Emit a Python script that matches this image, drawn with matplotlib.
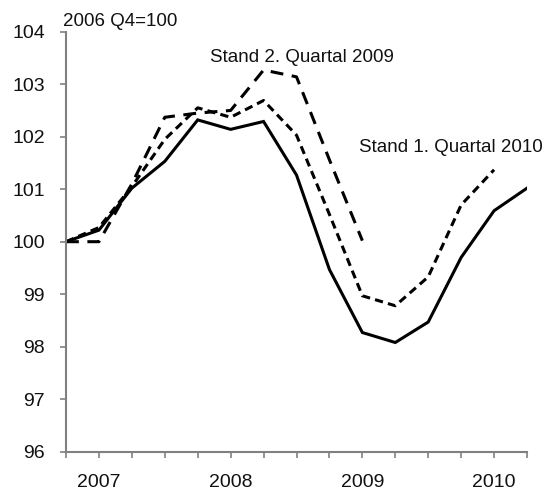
import matplotlib
matplotlib.use("Agg")
import matplotlib.pyplot as plt

plt.rcParams['font.family'] = ['Liberation Sans', 'DejaVu Sans']

# quarters 2006 Q4 .. 2010 Q2
quarters = list(range(15))
year_pos = [1, 5, 9, 13]
year_labels = ["2007", "2008", "2009", "2010"]

# latest vintage (solid)
aktuell = [100.0, 100.22, 101.02, 101.53, 102.32, 102.14, 102.29, 101.27,
           99.47, 98.27, 98.08, 98.47, 99.70, 100.59, 101.02]
# Stand 1. Quartal 2010 (short dashes)
stand_q1_2010 = [100.0, 100.27, 101.05, 101.95, 102.55, 102.37, 102.69, 102.03,
                 100.52, 98.97, 98.78, 99.33, 100.70, 101.37]
# Stand 2. Quartal 2009 (long dashes)
stand_q2_2009 = [100.0, 100.0, 101.1, 102.37, 102.45, 102.5, 103.27, 103.14,
                 101.56, 100.02]

fig = plt.figure(figsize=(5.45, 4.94), dpi=100)
ax = fig.add_axes([66/545, 1-451.7/494, (527-66)/545, 420/494])

ax.plot(quarters[:len(aktuell)], aktuell, color='black', lw=2.2,
        solid_joinstyle='miter')
ax.plot(quarters[:len(stand_q1_2010)], stand_q1_2010, color='black', lw=2.2,
        dashes=(2.7, 1.7))
ax.plot(quarters[:len(stand_q2_2009)], stand_q2_2009, color='black', lw=2.2,
        dashes=(4.2, 2.8))

ax.set_xlim(0, 14)
ax.set_ylim(96, 104)
ax.set_yticks(range(96, 105))
ax.set_xticks(quarters)
ax.set_xticklabels([year_labels[year_pos.index(q)] if q in year_pos else ""
                    for q in quarters])

for s in ['top', 'right']:
    ax.spines[s].set_visible(False)
for s in ['left', 'bottom']:
    ax.spines[s].set_color('#808080')
    ax.spines[s].set_linewidth(1.5)
ax.tick_params(axis='y', direction='out', length=4.3, width=1.2,
               color='#808080', pad=11, labelsize=14, labelcolor='#111111')
ax.tick_params(axis='x', direction='out', length=4.3, width=1.2,
               color='#808080', pad=12, labelsize=14, labelcolor='#111111')

fig.text(63/545, 1-22/494, "2006 Q4=100", fontsize=13.5, va='center',
         ha='left', color='#111111')
fig.text(210/545, 1-58/494, "Stand 2. Quartal 2009", fontsize=13.5,
         va='center', ha='left', color='#111111')
fig.text(359/545, 1-147/494, "Stand 1. Quartal 2010", fontsize=13.5,
         va='center', ha='left', color='#111111')

fig.savefig("out.png", dpi=100)
